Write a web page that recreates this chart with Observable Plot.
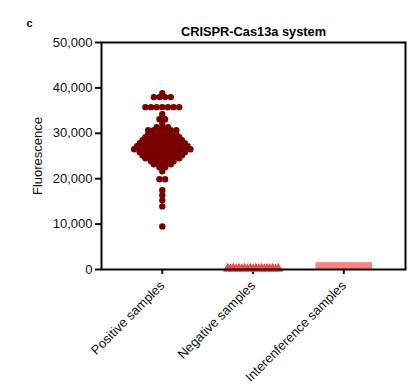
<!DOCTYPE html>
<html><head><meta charset="utf-8">
<script src="https://cdn.jsdelivr.net/npm/d3@7"></script>
<script src="https://cdn.jsdelivr.net/npm/@observablehq/plot@0.6"></script>
<style>body{margin:0;background:#fff}</style>
</head><body><div id="chart"></div>
<script>
const categories = ["Positive samples", "Negative samples", "Interenference samples"];
const yTicks = [0, 10000, 20000, 30000, 40000, 50000];
const positiveValues = [
  38850,
  37970, 37970, 37970, 37970,
  35760, 35760, 35760, 35760, 35760, 35760, 35760,
  34200,
  33100, 33100,
  32200,
  31350, 31350, 31350,
  30700, 30700, 30700, 30700, 30700, 30700,
  29800, 29800, 29800, 29800, 29800, 29800,
  29140, 29140, 29140, 29140, 29140, 29140, 29140,
  28480, 28480, 28480, 28480, 28480, 28480, 28480, 28480,
  27800, 27800, 27800, 27800, 27800, 27800, 27800, 27800, 27800,
  27150, 27150, 27150, 27150, 27150, 27150, 27150, 27150, 27150, 27150,
  26490, 26490, 26490, 26490, 26490, 26490, 26490, 26490, 26490, 26490, 26490,
  25830, 25830, 25830, 25830, 25830, 25830, 25830, 25830, 25830,
  25170, 25170, 25170, 25170, 25170, 25170, 25170, 25170,
  24500, 24500, 24500, 24500, 24500, 24500, 24500,
  23840, 23840, 23840, 23840, 23840,
  23180, 23180, 23180, 23180,
  22520, 22520,
  21630,
  19870, 19870,
  17440,
  16340,
  15230,
  13900,
  9490
];
const negativeValues = [
  100, 100, 100, 100, 100, 100, 100, 100, 100, 100,
  200, 200, 200, 200, 200, 200, 200, 200, 200,
  300, 300, 300, 300, 300, 300, 300, 300, 300, 300
];
const interferenceValues = [
  700, 700, 700, 700, 700, 700, 700, 700, 700, 700,
  850, 850, 850, 850, 850, 850, 850, 850, 850,
  1000, 1000, 1000, 1000, 1000, 1000, 1000, 1000, 1000, 1000
];
const colors = ["#7a0000", "#ff4646", "#ff8282"];
const symbols = ["circle", "triangle", "square"];

// scatter layout: points sharing a value are spread side by side around the category
function swarm(values, ci, step) {
  const out = [];
  for (const [v, arr] of d3.group(values, d => d)) {
    const n = arr.length;
    arr.forEach((_, i) => out.push({cat: ci, value: v, pos: ci + (i - (n - 1) / 2) * step}));
  }
  return out;
}
const pos = swarm(positiveValues, 0, 0.062);
const neg = swarm(negativeValues, 1, 0.062);
const itf = swarm(interferenceValues, 2, 0.062);

const chart = Plot.plot({
  width: 411, height: 388,
  marginTop: 42, marginBottom: 119, marginLeft: 101, marginRight: 6,
  x: {domain: [-0.67, 2.68]},
  y: {domain: [0, 50000]},
  style: {fontFamily: "Arial, 'Liberation Sans', sans-serif", fontSize: "13px", color: "#111", background: "#fff"},
  marks: [
    Plot.axisY({ticks: yTicks, tickFormat: d3.format(",.0f"), tickSize: 6, tickPadding: 3, label: null, strokeWidth: 2, fontSize: 13}),
    Plot.axisX({ticks: [0, 1, 2], tickFormat: i => categories[i], tickRotate: -45, tickSize: 5, tickPadding: 9, label: null, strokeWidth: 2, fontSize: 13}),
    Plot.dot(itf, {x: "pos", y: "value", r: 3.2, fill: colors[2], symbol: symbols[2]}),
    Plot.dot(neg, {x: "pos", y: "value", r: 3.4, fill: colors[1], symbol: symbols[1]}),
    Plot.dot(pos, {x: "pos", y: "value", r: 3.2, fill: colors[0], symbol: symbols[0]}),
    Plot.frame({stroke: "#000", strokeWidth: 2}),
    Plot.text(["CRISPR-Cas13a system"], {frameAnchor: "top", lineAnchor: "middle", dy: -11, fontWeight: "bold", fontSize: 12.8, fill: "#000"}),
    Plot.text(["c"], {frameAnchor: "top-left", lineAnchor: "middle", dx: -75, dy: -19, fontWeight: "bold", fontSize: 11, fill: "#000"}),
    Plot.text(["Fluorescence"], {frameAnchor: "left", dx: -64, rotate: -90, textAnchor: "middle", fontSize: 13, fill: "#111"})
  ]
});
document.getElementById("chart").append(chart);
</script>
</body></html>
